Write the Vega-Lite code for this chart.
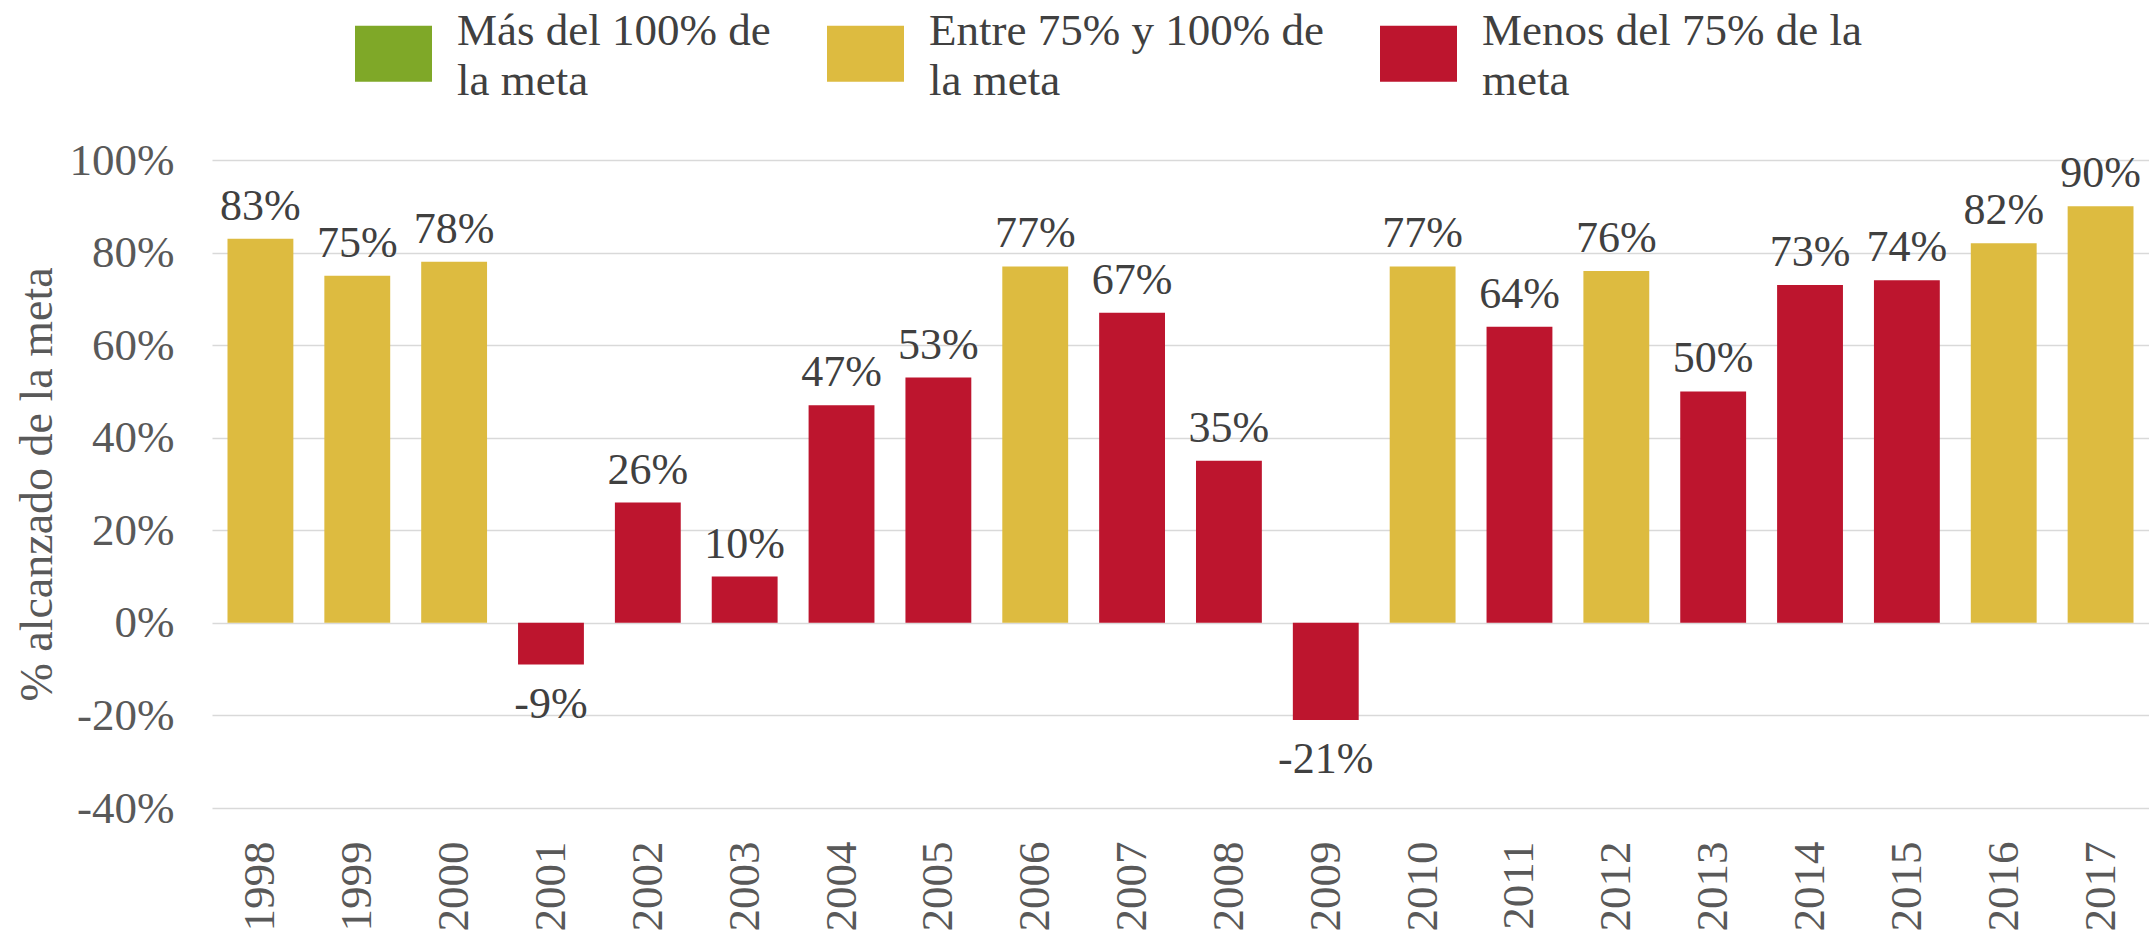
{
  "$schema": "https://vega.github.io/schema/vega-lite/v6.json",
  "width": 1937,
  "height": 648,
  "autosize": {"type": "none"},
  "padding": {"left": 212, "top": 160, "right": 0, "bottom": 129},
  "background": "white",
  "config": {
    "view": {"stroke": null},
    "font": "Liberation Serif",
    "locale": {"number": {"decimal": ".", "thousands": ",", "grouping": [3], "currency": ["$", ""], "minus": "-"}}
  },
  "data": {
    "values": [
      {"year": "1998", "value": 0.83, "cat": "Entre 75% y 100% de la meta"},
      {"year": "1999", "value": 0.75, "cat": "Entre 75% y 100% de la meta"},
      {"year": "2000", "value": 0.78, "cat": "Entre 75% y 100% de la meta"},
      {"year": "2001", "value": -0.09, "cat": "Menos del 75% de la meta"},
      {"year": "2002", "value": 0.26, "cat": "Menos del 75% de la meta"},
      {"year": "2003", "value": 0.10, "cat": "Menos del 75% de la meta"},
      {"year": "2004", "value": 0.47, "cat": "Menos del 75% de la meta"},
      {"year": "2005", "value": 0.53, "cat": "Menos del 75% de la meta"},
      {"year": "2006", "value": 0.77, "cat": "Entre 75% y 100% de la meta"},
      {"year": "2007", "value": 0.67, "cat": "Menos del 75% de la meta"},
      {"year": "2008", "value": 0.35, "cat": "Menos del 75% de la meta"},
      {"year": "2009", "value": -0.21, "cat": "Menos del 75% de la meta"},
      {"year": "2010", "value": 0.77, "cat": "Entre 75% y 100% de la meta"},
      {"year": "2011", "value": 0.64, "cat": "Menos del 75% de la meta"},
      {"year": "2012", "value": 0.76, "cat": "Entre 75% y 100% de la meta"},
      {"year": "2013", "value": 0.50, "cat": "Menos del 75% de la meta"},
      {"year": "2014", "value": 0.73, "cat": "Menos del 75% de la meta"},
      {"year": "2015", "value": 0.74, "cat": "Menos del 75% de la meta"},
      {"year": "2016", "value": 0.82, "cat": "Entre 75% y 100% de la meta"},
      {"year": "2017", "value": 0.90, "cat": "Entre 75% y 100% de la meta"}
    ]
  },
  "encoding": {
    "x": {
      "field": "year",
      "type": "ordinal",
      "sort": null,
      "scale": {"paddingInner": 0.32, "paddingOuter": 0.16},
      "axis": {
        "title": null,
        "labelAngle": -90,
        "labelAlign": "right",
        "labelBaseline": "middle",
        "labelFontSize": 45,
        "labelColor": "#595959",
        "labelPadding": 33,
        "domain": false,
        "ticks": false,
        "grid": false
      }
    },
    "y": {
      "field": "value",
      "type": "quantitative",
      "scale": {"domain": [-0.4, 1], "nice": false, "zero": false},
      "axis": {
        "values": [-0.4, -0.2, 0, 0.2, 0.4, 0.6, 0.8, 1],
        "format": ".0%",
        "labelFontSize": 45,
        "labelColor": "#595959",
        "labelPadding": 38,
        "ticks": false,
        "domain": false,
        "gridColor": "#D9D9D9",
        "gridWidth": 1.5,
        "title": "% alcanzado de la meta",
        "titleFontSize": 46,
        "titleFontWeight": "normal",
        "titleColor": "#595959",
        "titlePadding": 8
      }
    }
  },
  "layer": [
    {
      "mark": {"type": "bar"},
      "encoding": {
        "color": {
          "field": "cat",
          "type": "nominal",
          "scale": {
            "domain": ["Más del 100% de la meta", "Entre 75% y 100% de la meta", "Menos del 75% de la meta"],
            "range": ["#7FA828", "#DDBB40", "#BD152E"]
          },
          "legend": {
            "title": null,
            "orient": "none",
            "legendX": 143,
            "legendY": -145,
            "direction": "horizontal",
            "columns": 3,
            "padding": 0,
            "symbolType": "M-1,-0.727H1V0.727H-1Z",
            "symbolSize": 5929,
            "symbolStrokeWidth": 0,
            "symbolOpacity": 1,
            "labelFont": "Liberation Serif",
            "labelFontSize": 45,
            "labelColor": "#404040",
            "labelLimit": 1000,
            "labelOffset": 25,
            "columnPadding": 56,
            "labelExpr": "datum.label == 'Más del 100% de la meta' ? ['Más del 100% de', 'la meta'] : datum.label == 'Entre 75% y 100% de la meta' ? ['Entre 75% y 100% de', 'la meta'] : ['Menos del 75% de la', 'meta']",
            "encode": {"labels": {"update": {"lineHeight": {"value": 50}, "dy": {"value": -23}}}}
          }
        }
      }
    },
    {
      "transform": [{"filter": "datum.value >= 0"}],
      "mark": {"type": "text", "baseline": "alphabetic", "dy": -19, "fontSize": 44, "color": "#404040", "font": "Liberation Serif"},
      "encoding": {"text": {"field": "value", "type": "quantitative", "format": ".0%"}}
    },
    {
      "transform": [{"filter": "datum.value < 0"}],
      "mark": {"type": "text", "baseline": "alphabetic", "dy": 53, "fontSize": 44, "color": "#404040", "font": "Liberation Serif"},
      "encoding": {"text": {"field": "value", "type": "quantitative", "format": ".0%"}}
    }
  ]
}
